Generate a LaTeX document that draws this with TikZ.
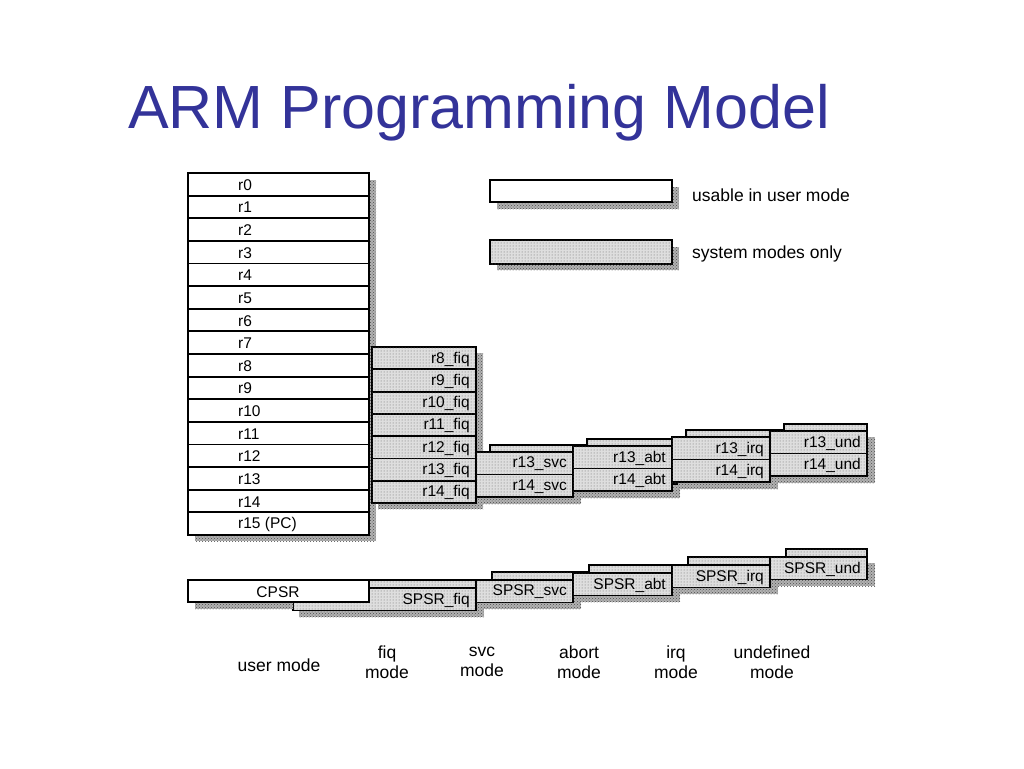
\documentclass[tikz,border=0pt]{standalone}
\usepackage{fontspec}
\setmainfont{Liberation Sans}
\usetikzlibrary{patterns}
\definecolor{titleblue}{RGB}{51,51,153}
\tikzset{
  cell/.style={draw=black,line width=1.8pt,fill=white},
  dcell/.style={draw=black,line width=1.8pt,fill=black!13,postaction={pattern=dots,pattern color=black!60}},
  shad/.style={fill=black!30,postaction={pattern=crosshatch dots,pattern color=black!70}},
  lab/.style={font=\fontsize{15.5}{15.5}\selectfont,inner sep=0pt},
  mode/.style={font=\fontsize{17.5}{20}\selectfont,align=center,inner sep=0pt}
}
\begin{document}
\begin{tikzpicture}[x=1pt,y=-1pt]
\useasboundingbox (0,0) rectangle (1024,768);
\node[anchor=base west,text=titleblue,font=\fontsize{61}{66}\selectfont,inner sep=0pt] (title) at (128,128) {ARM Programming Model};
% main column
\fill[shad] (195,180) rectangle (376,541);
\foreach \i/\t in {0/r0,1/r1,2/r2,3/r3,4/r4,5/r5,6/r6,7/r7,8/r8,9/r9,10/r10,11/r11,12/r12,13/r13,14/r14,15/r15 (PC)}{
  \draw[cell] (188,173+\i*22.625) rectangle (369,173+\i*22.625+22.625);
  \node[lab,anchor=west] (u\i) at (238,173+\i*22.625+12) {\t};
}
% fiq column
\fill[shad] (378,353) rectangle (483,509);
\foreach \i/\t in {0/r8\_fiq,1/r9\_fiq,2/r10\_fiq,3/r11\_fiq,4/r12\_fiq,5/r13\_fiq,6/r14\_fiq}{
  \draw[dcell] (372,347+\i*22.3) rectangle (476,347+\i*22.3+22.3);
  \node[lab,anchor=east] (f\i) at (470,347+\i*22.3+12) {\t};
}
% banked r13/r14 columns
\foreach \l/\r/\br/\tp/\a/\b/\n in {476/573/587/452/r13\_svc/r14\_svc/s,573/672/686/446/r13\_abt/r14\_abt/ab,672/770/784/437/r13\_irq/r14\_irq/q,770/867/867/431/r13\_und/r14\_und/d}{
  \fill[shad] (\l+6,\tp+6) rectangle (\r+8,\tp+52);
  \draw[dcell] (\l+14,\tp-7) rectangle (\br,\tp+38);
  \draw[dcell] (\l,\tp) rectangle (\r,\tp+22.5);
  \draw[dcell] (\l,\tp+22.5) rectangle (\r,\tp+45);
  \node[lab,anchor=east] (\n a) at (\r-6,\tp+12) {\a};
  \node[lab,anchor=east] (\n b) at (\r-6,\tp+34.5) {\b};
}
% SPSRs
\foreach \l/\r/\br/\tp/\a/\n in {293/476/490/588/SPSR\_fiq/pf,476/573/587/580/SPSR\_svc/ps,573/672/686/573/SPSR\_abt/pa,672/770/784/565/SPSR\_irq/pq,770/867/867/557/SPSR\_und/pd}{
  \fill[shad] (\l+6,\tp+6) rectangle (\r+8,\tp+29);
  \draw[dcell] (\l+16,\tp-8) rectangle (\br,\tp+14);
  \draw[dcell] (\l,\tp) rectangle (\r,\tp+22.5);
  \node[lab,anchor=east] (\n) at (\r-6,\tp+12) {\a};
}
% CPSR
\fill[shad] (195,603) rectangle (293,609);
\draw[cell] (188,580) rectangle (369,602);
\node[lab] (cpsr) at (278,592) {CPSR};
% legend
\fill[shad] (497,187) rectangle (679,209);
\draw[cell] (490,180) rectangle (672,202);
\node[lab,anchor=west,font=\fontsize{17.5}{17.5}\selectfont] (leg1) at (692,195) {usable in user mode};
\fill[shad] (497,247) rectangle (679,270);
\draw[dcell] (490,240) rectangle (672,264);
\node[lab,anchor=west,font=\fontsize{17.5}{17.5}\selectfont] (leg2) at (692,254) {system modes only};
% mode labels
\node[mode] (m0) at (279,665) {user mode};
\node[mode] (m1) at (387,662) {fiq\\mode};
\node[mode] (m2) at (482,662) {svc\\mode};
\node[mode] (m3) at (579,662) {abort\\mode};
\node[mode] (m4) at (676,662) {irq\\mode};
\node[mode] (m5) at (772,662) {undefined\\mode};
\end{tikzpicture}
\end{document}
